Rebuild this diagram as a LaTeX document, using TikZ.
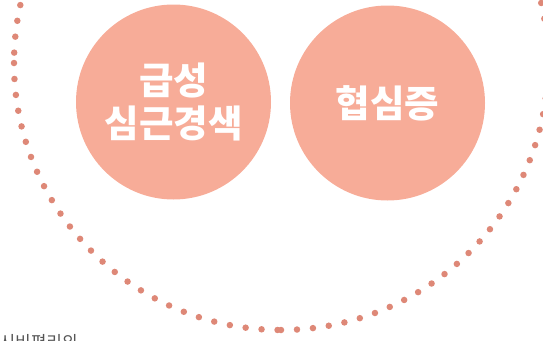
\documentclass[tikz,border=0pt]{standalone}
\usepackage{fontspec}
\newfontfamily\kofont{Noto Sans CJK KR}
\usetikzlibrary{calc}
\definecolor{salmon}{HTML}{F7AC98}
\definecolor{dotred}{HTML}{DE8877}
\definecolor{notegray}{HTML}{555555}

\begin{document}
\begin{tikzpicture}[x=1pt,y=1pt,
  disease/.style={circle,fill=salmon,minimum size=195pt,inner sep=0pt,
    text=white,align=center,font=\kofont\bfseries\fontsize{37.5}{43}\selectfont},
  ring/.style={draw=dotred,line width=6.5pt,line cap=round,
    dash pattern=on 0pt off 16pt},
  note/.style={text=notegray,font=\kofont\fontsize{17}{19}\selectfont}]

\useasboundingbox (0,0) rectangle (543,-340);

\coordinate (c) at (281,-63);
\coordinate (cl) at ($(c)+(180:267pt)$);
\coordinate (cb) at ($(c)+(270:267pt)$);

% dotted ring, drawn in two pieces
\draw[ring] (cl) arc[start angle=180,end angle=270,radius=267pt];
\draw[ring] (cb) arc[start angle=270,end angle=540,radius=267pt];

\node[disease] (ami) at (173.5,-102) {급성\\심근경색};
\node[disease] (angina) at (387.5,-103) {협심증};

\node[note,anchor=base west] (cut) at (-4,-348) {시비편리의};
\end{tikzpicture}
\end{document}
